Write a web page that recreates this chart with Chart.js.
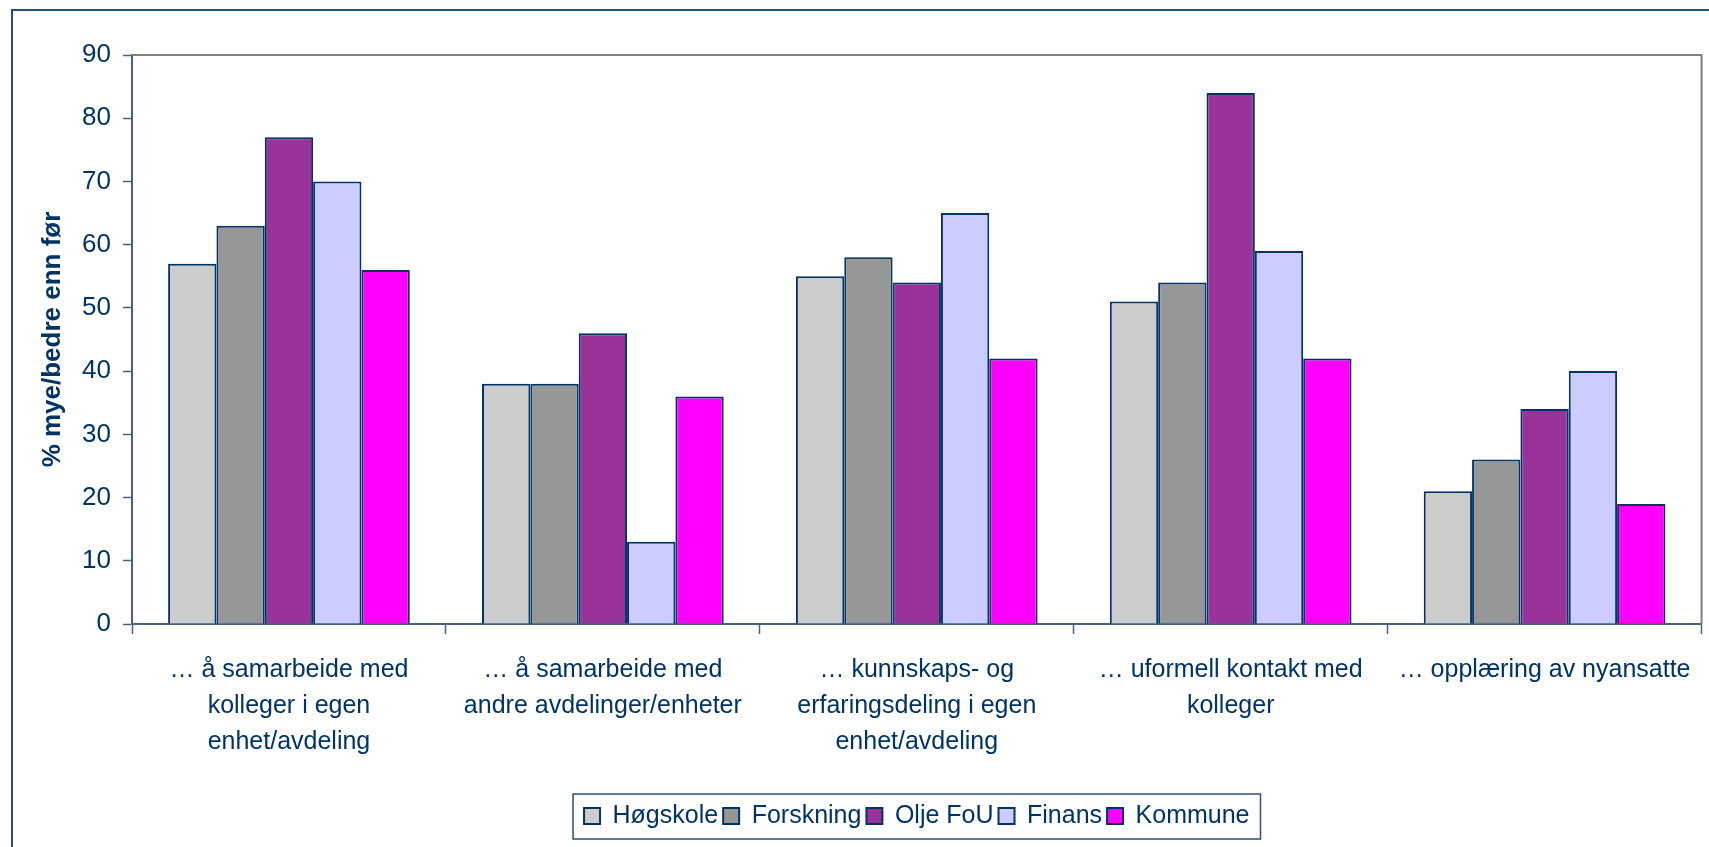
<!DOCTYPE html>
<html lang="no">
  <head>
    <meta charset="UTF-8" />
    <meta name="viewport" content="width=device-width, initial-scale=1.0" />
    <script src="https://cdn.jsdelivr.net/npm/chart.js"></script>
    <title>Samarbeid og kunnskapsdeling</title>
    <style>
      body {
        margin: 0;
        background: #ffffff;
        overflow: hidden;
      }
      #frame {
        position: absolute;
        left: 11px;
        top: 9px;
        width: 1700px;
        height: 840px;
        border-left: 2px solid #244f7d;
        border-top: 2px solid #244f7d;
      }
      #chart {
        position: absolute;
        left: 0;
        top: 0;
      }
    </style>
  </head>
  <body>
    <div id="frame"></div>
    <canvas id="chart" width="1709" height="847"></canvas>
    <script>
      const categories = [
        ['… å samarbeide med', 'kolleger i egen', 'enhet/avdeling'],
        ['… å samarbeide med', 'andre avdelinger/enheter'],
        ['… kunnskaps- og', 'erfaringsdeling i egen', 'enhet/avdeling'],
        ['… uformell kontakt med', 'kolleger'],
        ['… opplæring av nyansatte']
      ];
      const seriesNames = ['Høgskole', 'Forskning', 'Olje FoU', 'Finans', 'Kommune'];
      const hogskole = [57, 38, 55, 51, 21];
      const forskning = [63, 38, 58, 54, 26];
      const oljeFou = [77, 46, 54, 84, 34];
      const finans = [70, 13, 65, 59, 40];
      const kommune = [56, 36, 42, 42, 19];
      const yMin = 0, yMax = 90, yStep = 10;

      const seriesColors = ['#cccccc', '#969696', '#993399', '#ccccff', '#ff00ff'];
      const navy = '#003366';
      const axisColor = '#4a6282';
      const fontFamily = '"Liberation Sans", Arial, sans-serif';

      // grey frame on top and right of the plot, box round the legend
      const framePlugin = {
        id: 'frames',
        beforeDatasetsDraw(chart) {
          const { ctx, chartArea: a } = chart;
          ctx.save();
          ctx.strokeStyle = '#808080';
          ctx.lineWidth = 2;
          ctx.beginPath();
          ctx.moveTo(a.left, a.top);
          ctx.lineTo(a.right, a.top);
          ctx.lineTo(a.right, a.bottom);
          ctx.stroke();
          ctx.restore();
        },
        afterDraw(chart) {
          const lg = chart.legend;
          const pad = lg.options.labels.padding;
          const startX = (lg.left + pad + lg.right - lg.lineWidths[0]) / 2;
          const endX = startX + lg.lineWidths[0] - pad;
          const ctx = chart.ctx;
          ctx.save();
          ctx.strokeStyle = '#2a4f7a';
          ctx.lineWidth = 1.5;
          ctx.strokeRect(startX - 11, lg.top - 4.5, endX - startX + 22, lg.bottom - lg.top + 5);
          ctx.restore();
        }
      };

      document.addEventListener('DOMContentLoaded', function () {
        const values = [hogskole, forskning, oljeFou, finans, kommune];
        const datasets = seriesNames.map((name, i) => ({
          label: name,
          data: values[i],
          backgroundColor: seriesColors[i],
          borderColor: navy,
          borderWidth: 2,
          categoryPercentage: 0.77,
          barPercentage: 1
        }));

        new Chart(document.getElementById('chart'), {
          type: 'bar',
          data: { labels: categories, datasets: datasets },
          plugins: [framePlugin],
          options: {
            responsive: false,
            animation: false,
            layout: { padding: { top: 55, right: 5, left: 0, bottom: 8.5 } },
            scales: {
              x: {
                offset: true,
                grid: {
                  offset: true,
                  drawOnChartArea: false,
                  tickLength: 10,
                  tickColor: axisColor,
                  tickWidth: 1.5
                },
                border: { color: axisColor, width: 2 },
                ticks: {
                  color: navy,
                  font: { family: fontFamily, size: 25, lineHeight: 1.44 },
                  padding: 18,
                  maxRotation: 0,
                  autoSkip: false
                },
                afterFit(scale) { scale.height = 174.5; }
              },
              y: {
                min: yMin,
                max: yMax,
                ticks: {
                  stepSize: yStep,
                  color: navy,
                  font: { family: fontFamily, size: 26 },
                  padding: 12
                },
                grid: {
                  drawOnChartArea: false,
                  tickLength: 9,
                  tickColor: axisColor,
                  tickWidth: 1.5
                },
                border: { color: axisColor, width: 2 },
                title: {
                  display: true,
                  text: '% mye/bedre enn før',
                  color: navy,
                  font: { family: fontFamily, size: 26, weight: 'bold' },
                  padding: { top: 37, bottom: 0 }
                },
                afterFit(scale) { scale.width = 132; }
              }
            },
            plugins: {
              legend: {
                position: 'bottom',
                fullSize: false,
                labels: {
                  color: navy,
                  font: { family: fontFamily, size: 25 },
                  boxWidth: 16,
                  boxHeight: 16,
                  padding: 5
                }
              },
              tooltip: { enabled: false }
            }
          }
        });
      });
    </script>
  </body>
</html>
